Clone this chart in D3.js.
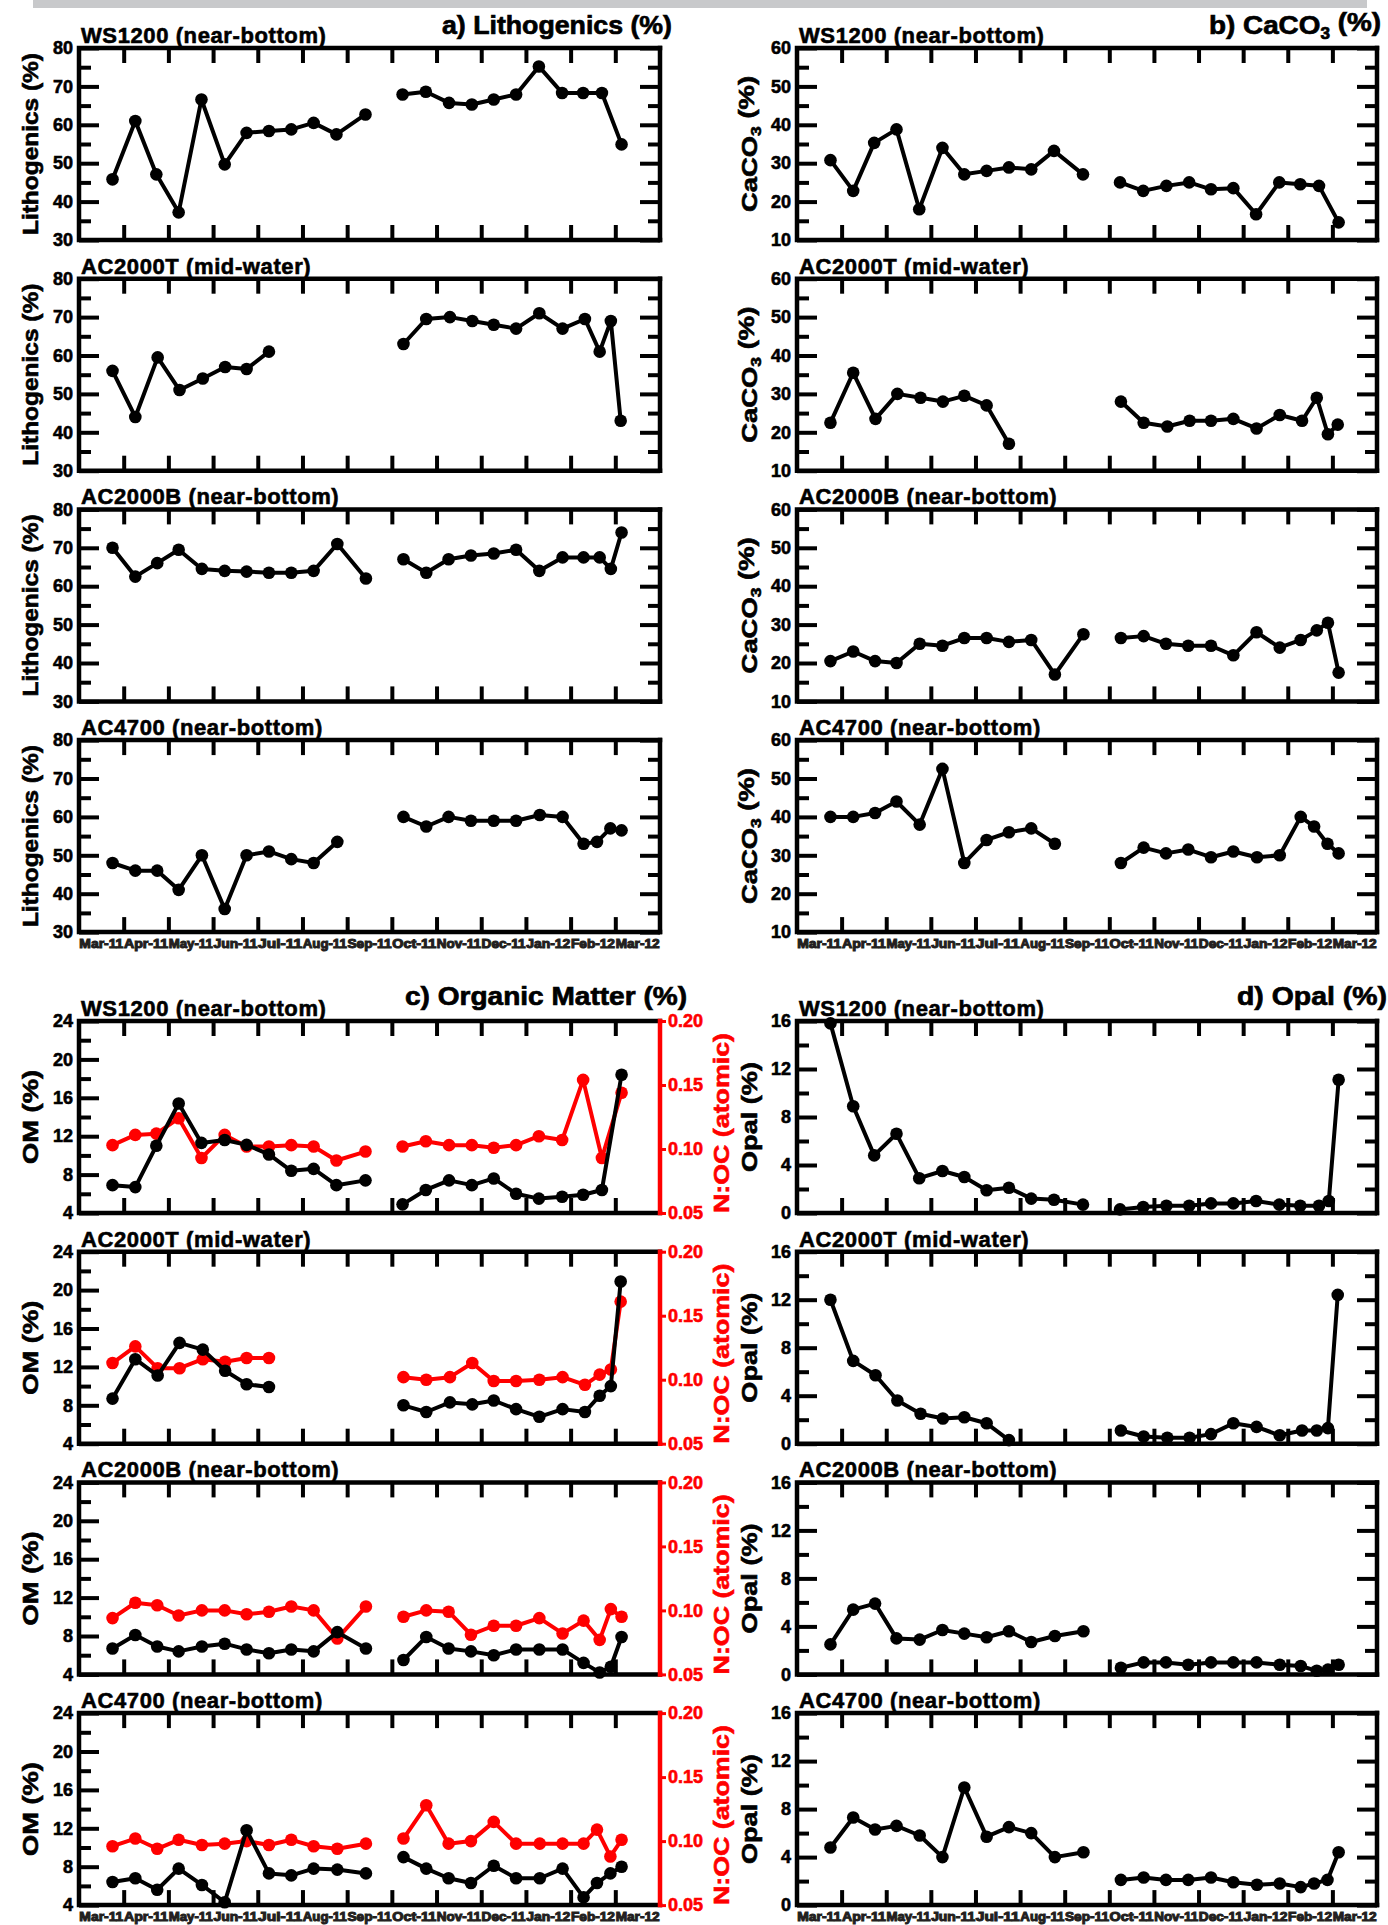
<!DOCTYPE html>
<html>
<head>
<meta charset="utf-8">
<script src="https://cdn.jsdelivr.net/npm/d3@7"></script>
<style>
  body { margin: 0; background: #fff; }
  svg text { font-family: "Liberation Sans", Arial, sans-serif; font-weight: bold; }
</style>
</head>
<body>
<div id="chart"></div>
<script>
// month labels, one per tick interval (13 months on the x axis)
var monthLabels = ["Mar-11","Apr-11","May-11","Jun-11","Jul-11","Aug-11","Sep-11",
                   "Oct-11","Nov-11","Dec-11","Jan-12","Feb-12","Mar-12"];
var breakMonth = 6.8;   // trap turnaround, lines are not joined across it

var stationNames = ["WS1200 (near-bottom)", "AC2000T (mid-water)", "AC2000B (near-bottom)", "AC4700 (near-bottom)"];

// sample mid-points, in months from the start of the x axis
var t_WS1200  = [0.75,1.26,1.73,2.23,2.74,3.26,3.75,4.25,4.75,5.25,5.76,6.41, 7.24,7.76,8.28,8.79,9.28,9.78,10.29,10.81,11.28,11.7,11.92,12.14];
var t_AC2000T = [0.75,1.26,1.76,2.25,2.77,3.27,3.75,4.25,4.75, 7.26,7.77,8.3,8.8,9.28,9.78,10.3,10.82,11.32,11.65,11.9,12.12];
var t_AC2000B = [0.75,1.26,1.75,2.23,2.75,3.26,3.75,4.25,4.75,5.25,5.78,6.42, 7.26,7.77,8.27,8.77,9.28,9.78,10.3,10.82,11.29,11.65,11.9,12.14];
var t_AC4700  = [0.75,1.26,1.75,2.23,2.75,3.26,3.75,4.25,4.75,5.25,5.78,6.42, 7.26,7.77,8.27,8.77,9.28,9.78,10.31,10.82,11.29,11.59,11.89,12.14];

// a) lithogenics (%)
var litho_WS1200  = [45.8,61.0,47.1,37.2,66.6,49.7,57.9,58.4,58.8,60.5,57.5,62.7, 67.9,68.6,65.7,65.3,66.6,67.9,75.2,68.3,68.3,68.3,null,54.9];
var litho_AC2000T = [56,44,59.5,51,54,57,56.5,61,null, 63,69.5,70,69,68,67,71,67,69.5,61,69,43];
var litho_AC2000B = [70,62.5,66,69.5,64.5,64,63.8,63.5,63.5,64,71,62, 67,63.5,67,68,68.5,69.5,64,67.5,67.5,67.5,64.5,74];
var litho_AC4700  = [48,46,46,41,50,36,50,51,49,48,53.5,null, 60,57.5,60,59,59,59,60.5,60,53,53.5,57,56.5];

// b) CaCO3 (%)
var caco3_WS1200  = [30.8,22.8,35.3,38.8,18.0,34.0,27.1,28.0,28.9,28.4,33.2,27.1, 25.0,22.8,24.1,25.0,23.2,23.5,16.7,25.0,24.5,24.1,null,14.6];
var caco3_AC2000T = [22.5,35.5,23.5,30,29,28,29.5,27,17, 28,22.5,21.5,23,23,23.5,21,24.5,23,29,19.5,22];
var caco3_AC2000B = [20.5,23,20.5,20,25,24.5,26.5,26.5,25.5,26,17,27.5, 26.5,27,25,24.5,24.5,22,28,24,26,28.5,30.5,17.5];
var caco3_AC4700  = [40,40,41,44,38,52.5,28,34,36,37,33,null, 28,32,30.5,31.5,29.5,31,29.5,30,40,37.5,33,30.5];

// c) organic matter (%)
var om_WS1200  = [6.9,6.7,11.0,15.4,11.3,11.6,11.1,10.1,8.4,8.6,6.9,7.4, 4.9,6.4,7.4,6.9,7.6,6.0,5.5,5.7,5.9,6.4,null,18.4];
var om_AC2000T = [8.7,12.8,11.1,14.5,13.8,11.6,10.2,9.9,null, 8.0,7.3,8.3,8.1,8.5,7.6,6.8,7.6,7.3,9.0,10.0,20.9];
var om_AC2000B = [6.7,8.1,6.9,6.4,6.9,7.2,6.6,6.2,6.6,6.4,8.4,6.7, 5.5,7.9,6.7,6.4,6.0,6.6,6.6,6.6,5.2,4.2,4.8,7.9];
var om_AC4700  = [6.4,6.8,5.6,7.8,6.1,4.3,11.8,7.3,7.1,7.8,7.7,7.3, 9.0,7.8,6.8,6.3,8.1,6.8,6.8,7.8,4.8,6.3,7.3,8.0];

// c) N:OC (atomic), red right axis
var noc_WS1200  = [0.103,0.111,0.112,0.124,0.093,0.111,0.102,0.102,0.103,0.102,0.091,0.098, 0.102,0.106,0.103,0.103,0.101,0.103,0.110,0.107,0.154,0.093,null,0.144];
var noc_AC2000T = [0.113,0.126,0.109,0.109,0.116,0.114,0.117,0.117,null, 0.102,0.100,0.102,0.113,0.099,0.099,0.100,0.102,0.096,0.104,0.108,0.161];
var noc_AC2000B = [0.094,0.106,0.104,0.096,0.100,0.100,0.097,0.099,0.103,0.100,0.078,0.103, 0.095,0.100,0.099,0.081,0.088,0.088,0.094,0.082,0.092,0.077,0.101,0.095];
var noc_AC4700  = [0.096,0.102,0.094,0.101,0.097,0.098,0.100,0.097,0.101,0.096,0.094,0.098, 0.102,0.128,0.098,0.100,0.115,0.098,0.098,0.098,0.098,0.109,0.088,0.101];

// d) opal (%)
var opal_WS1200  = [15.8,8.9,4.8,6.6,2.9,3.5,3.0,1.9,2.1,1.2,1.1,0.7, 0.3,0.5,0.6,0.6,0.8,0.8,1.0,0.7,0.6,0.6,1.0,11.1];
var opal_AC2000T = [12.0,6.9,5.7,3.6,2.5,2.1,2.2,1.7,0.3, 1.1,0.6,0.5,0.5,0.8,1.7,1.4,0.7,1.1,1.1,1.3,12.4];
var opal_AC2000B = [2.5,5.4,5.9,3.0,2.9,3.7,3.4,3.1,3.6,2.7,3.2,3.6, 0.55,1.0,1.0,0.8,1.0,1.0,1.0,0.8,0.7,0.3,0.4,0.8];
var opal_AC4700  = [4.8,7.3,6.3,6.6,5.8,4.0,9.8,5.7,6.5,6.0,4.0,4.4, 2.1,2.3,2.1,2.1,2.3,1.9,1.7,1.8,1.5,1.8,2.1,4.4];

var times = [t_WS1200, t_AC2000T, t_AC2000B, t_AC4700];
var litho = [litho_WS1200, litho_AC2000T, litho_AC2000B, litho_AC4700];
var caco3 = [caco3_WS1200, caco3_AC2000T, caco3_AC2000B, caco3_AC4700];
var om    = [om_WS1200, om_AC2000T, om_AC2000B, om_AC4700];
var noc   = [noc_WS1200, noc_AC2000T, noc_AC2000B, noc_AC4700];
var opal  = [opal_WS1200, opal_AC2000T, opal_AC2000B, opal_AC4700];

// layout
var W = 1388, H = 1925;
var cols = [{x0: 79, x1: 660}, {x0: 797, x1: 1377}];
var frameH = 192, rowStep = 230.7;
var topY = 48, botY = 1021;
var RED = "#ff0000";

var svg = d3.select("#chart").append("svg")
    .attr("width", W).attr("height", H);

svg.append("rect").attr("width", W).attr("height", H).attr("fill", "#fff");
// grey strip at the very top
svg.append("rect").attr("x", 33).attr("y", 0).attr("width", 1334).attr("height", 8).attr("fill", "#c8c9cb");

function tickAxis(g, axis, transform, color) {
  g.append("g").attr("transform", transform)
    .call(axis.tickFormat(""))
    .call(function(a) { a.select(".domain").remove(); })
    .selectAll("line").attr("stroke", color || "#000").attr("stroke-width", 4);
}

function drawPanel(p) {
  var x = d3.scaleLinear().domain([0, monthLabels.length]).range([p.x0, p.x1]);
  var y = d3.scaleLinear().domain(p.dom).range([p.y0 + frameH, p.y0]);
  var g = svg.append("g");

  var majors = d3.range(p.dom[0], p.dom[1] + p.major / 2, p.major);
  var minors = d3.range(p.dom[0], p.dom[1] + p.minor / 2, p.minor)
    .filter(function(v) { return majors.every(function(m) { return Math.abs(m - v) > 1e-6; }); });
  var inner = d3.range(1, monthLabels.length);

  // inward ticks
  tickAxis(g, d3.axisRight(y).tickValues(majors).tickSize(20), "translate(" + p.x0 + ",0)");
  tickAxis(g, d3.axisRight(y).tickValues(minors).tickSize(12), "translate(" + p.x0 + ",0)");
  if (!p.y2) {
    tickAxis(g, d3.axisLeft(y).tickValues(majors).tickSize(20), "translate(" + p.x1 + ",0)");
    tickAxis(g, d3.axisLeft(y).tickValues(minors).tickSize(12), "translate(" + p.x1 + ",0)");
  }
  tickAxis(g, d3.axisBottom(x).tickValues(inner).tickSize(15), "translate(0," + p.y0 + ")");
  tickAxis(g, d3.axisTop(x).tickValues(inner).tickSize(15), "translate(0," + (p.y0 + frameH) + ")");

  // y tick labels
  g.append("g").attr("transform", "translate(" + (p.x0 - 2) + ",0)")
    .call(d3.axisLeft(y).tickValues(majors).tickSize(0).tickPadding(4).tickFormat(d3.format("d")))
    .call(function(a) { a.select(".domain").remove(); })
    .selectAll("text")
      .attr("font-size", 18).attr("font-family", null).attr("fill", "#000")
      .attr("stroke", "#000").attr("stroke-width", 0.6);

  // frame
  var fr = g.append("g").attr("stroke-width", 4.5).attr("stroke-linecap", "square").attr("fill", "none");
  fr.append("path").attr("stroke", "#000")
    .attr("d", "M" + p.x1 + "," + p.y0 + "H" + p.x0 + "V" + (p.y0 + frameH) + "H" + p.x1);
  fr.append("line").attr("stroke", p.y2 ? RED : "#000")
    .attr("x1", p.x1).attr("x2", p.x1).attr("y1", p.y0).attr("y2", p.y0 + frameH);

  // second (red) axis on the right
  var y2 = null;
  if (p.y2) {
    y2 = d3.scaleLinear().domain(p.y2.dom).range([p.y0 + frameH, p.y0]);
    var ax = g.append("g").attr("transform", "translate(" + p.x1 + ",0)")
      .call(d3.axisRight(y2).tickValues(p.y2.ticks).tickSize(6).tickPadding(2).tickFormat(d3.format(".2f")))
      .call(function(a) { a.select(".domain").remove(); });
    ax.selectAll("line").attr("stroke", RED).attr("stroke-width", 3);
    ax.selectAll("text").attr("font-size", 18).attr("font-family", null).attr("fill", RED)
      .attr("stroke", RED).attr("stroke-width", 0.6);
  }

  // series, red first so black sits on top
  p.series.forEach(function(s) {
    var sc = s.axis2 ? y2 : y;
    var pts = p.t.map(function(t, i) { return {t: t, v: s.v[i]}; })
      .filter(function(d) { return d.v != null; });
    var segs = [pts.filter(function(d) { return d.t < breakMonth; }),
                pts.filter(function(d) { return d.t >= breakMonth; })];
    var line = d3.line().x(function(d) { return x(d.t); }).y(function(d) { return sc(d.v); });
    segs.forEach(function(seg) {
      if (!seg.length) return;
      g.append("path").datum(seg).attr("d", line)
        .attr("fill", "none").attr("stroke", s.color).attr("stroke-width", 4)
        .attr("stroke-linejoin", "round");
    });
    g.append("g").selectAll("circle").data(pts).enter().append("circle")
      .attr("cx", function(d) { return x(d.t); })
      .attr("cy", function(d) { return sc(d.v); })
      .attr("r", 6.3).attr("fill", s.color);
  });

  // station label
  g.append("text").attr("x", p.x0 + 2).attr("y", p.y0 - 5)
    .attr("font-size", 22).attr("letter-spacing", 0.6)
    .attr("stroke", "#000").attr("stroke-width", 0.6)
    .text(p.station);

  // month labels under the last row of each half
  if (p.months) {
    g.append("g").selectAll("text").data(monthLabels).enter().append("text")
      .attr("x", function(d, i) { return x(i + 0.5); })
      .attr("y", p.y0 + frameH + 16)
      .attr("text-anchor", "middle")
      .attr("font-size", 12).attr("fill", "#231f20")
      .attr("stroke", "#231f20").attr("stroke-width", 1)
      .attr("textLength", 44).attr("lengthAdjust", "spacingAndGlyphs")
      .text(function(d) { return d; });
  }
  return {x: x, y: y};
}

function yTitle(cx, cy, len, color, build) {
  var t = svg.append("text")
    .attr("transform", "translate(" + cx + "," + cy + ") rotate(-90)")
    .attr("text-anchor", "middle").attr("dy", "0.35em")
    .attr("font-size", 22).attr("fill", color)
    .attr("stroke", color).attr("stroke-width", 0.6)
    .attr("textLength", len).attr("lengthAdjust", "spacingAndGlyphs");
  build(t);
}

stationNames.forEach(function(name, i) {
  var yt = topY + i * rowStep, yb = botY + i * rowStep;
  var last = i === stationNames.length - 1;

  drawPanel({x0: cols[0].x0, x1: cols[0].x1, y0: yt, dom: [30, 80], major: 10, minor: 5,
    t: times[i], station: name, months: last,
    series: [{v: litho[i], color: "#000"}]});
  yTitle(30, yt + frameH / 2, 182, "#000", function(t) { t.text("Lithogenics (%)"); });

  drawPanel({x0: cols[1].x0, x1: cols[1].x1, y0: yt, dom: [10, 60], major: 10, minor: 5,
    t: times[i], station: name, months: last,
    series: [{v: caco3[i], color: "#000"}]});
  yTitle(749, yt + frameH / 2, 136, "#000", function(t) {
    t.append("tspan").text("CaCO");
    t.append("tspan").attr("font-size", 14).attr("dy", "0.3em").text("3");
    t.append("tspan").attr("dy", "-0.3em").text(" (%)");
  });

  drawPanel({x0: cols[0].x0, x1: cols[0].x1, y0: yb, dom: [4, 24], major: 4, minor: 2,
    t: times[i], station: name, months: last,
    y2: {dom: [0.05, 0.20], ticks: [0.05, 0.10, 0.15, 0.20]},
    series: [{v: noc[i], color: RED, axis2: true}, {v: om[i], color: "#000"}]});
  yTitle(30, yb + frameH / 2, 94, "#000", function(t) { t.text("OM (%)"); });
  yTitle(721, yb + frameH / 2 + 6, 180, RED, function(t) { t.text("N:OC (atomic)"); });

  drawPanel({x0: cols[1].x0, x1: cols[1].x1, y0: yb, dom: [0, 16], major: 4, minor: 2,
    t: times[i], station: name, months: last,
    series: [{v: opal[i], color: "#000"}]});
  yTitle(749, yb + frameH / 2, 110, "#000", function(t) { t.text("Opal (%)"); });
});

// panel titles
function title(x, y, anchor, len, build) {
  var t = svg.append("text").attr("x", x).attr("y", y).attr("text-anchor", anchor)
    .attr("font-size", 26).attr("stroke", "#000").attr("stroke-width", 0.7)
    .attr("textLength", len).attr("lengthAdjust", "spacingAndGlyphs");
  build(t);
}
title(672, 34, "end", 230, function(t) { t.text("a) Lithogenics (%)"); });
title(1381, 34, "end", 172, function(t) {
  t.append("tspan").text("b) CaCO");
  t.append("tspan").attr("font-size", 16).attr("dy", "0.3em").text("3");
  t.append("tspan").attr("dy", "-0.3em").text(" (%)");
});
title(687, 1005, "end", 282, function(t) { t.text("c) Organic Matter (%)"); });
title(1237, 1005, "start", 150, function(t) { t.text("d) Opal (%)"); });
</script>
</body>
</html>
